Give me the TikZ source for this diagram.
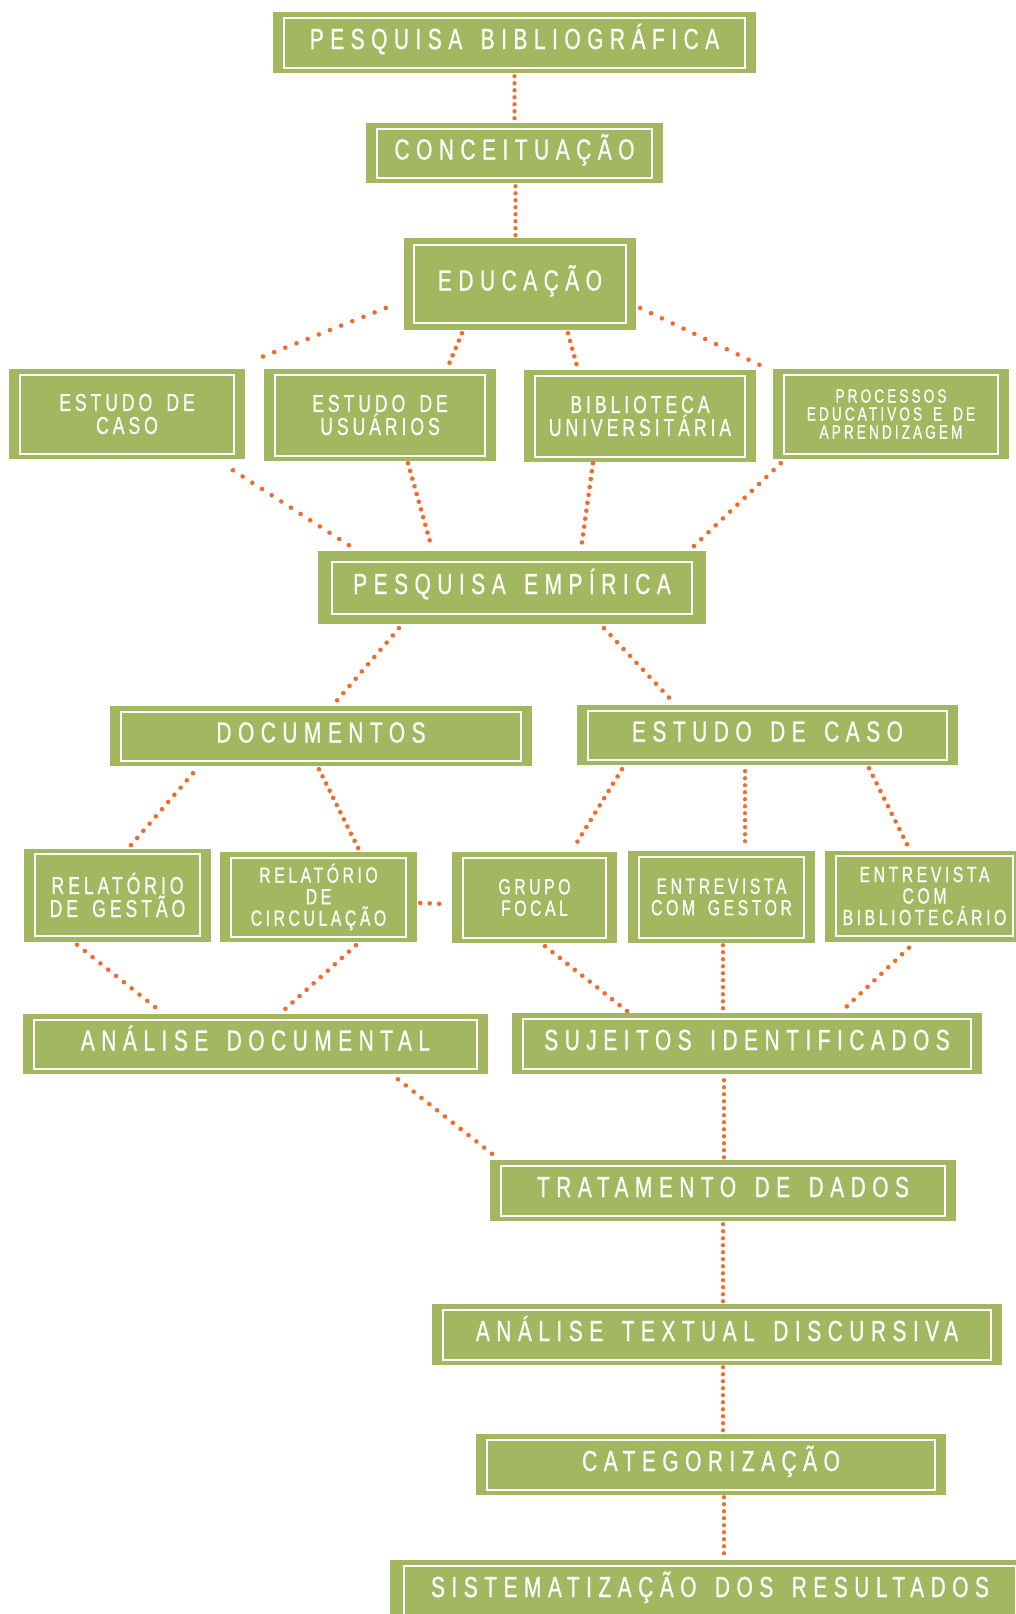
\documentclass[tikz,border=0pt]{standalone}
\usepackage{fontspec}
\setmainfont{Liberation Sans}
\newfontfamily\rotulo[FakeStretch=0.72,LetterSpace=22.5,WordSpace=1.5,FakeBold=0.7]{Liberation Sans}
\newfontfamily\rotulomenor[FakeStretch=0.72,LetterSpace=16,WordSpace=1.6,FakeBold=0.6]{Liberation Sans}
\usepackage{tikz}
\usetikzlibrary{calc}
\definecolor{verde}{HTML}{A2B75F}
\definecolor{laranja}{HTML}{F26B2A}

\begin{document}
\begin{tikzpicture}[x=1pt,y=-1pt,
  moldura/.style 2 args={path picture={\draw[white,line width=2pt]
    ([xshift=#1,yshift=-#2]path picture bounding box.north west) rectangle
    ([xshift=-#1,yshift=#2]path picture bounding box.south east);}},
  caixa/.style 2 args={fill=verde,text=white,align=center,inner sep=0pt,
    minimum width=#1pt,minimum height=#2pt,moldura={11pt}{5.5pt}},
  grande/.style={font=\rotulo\fontsize{29}{30}\selectfont,text height=23pt,text depth=10pt},
  media/.style={font=\rotulomenor\fontsize{24.5}{23}\selectfont},
  menor/.style={font=\rotulomenor\fontsize{22}{21.5}\selectfont},
  minima/.style={font=\rotulomenor\fontsize{19}{18}\selectfont},
  elo/.style={draw=laranja,line cap=round,line width=4.6pt,dash pattern=on 0pt off #1},
  elo/.default=9.5pt,
  elo fino/.style={elo=7pt,line width=4.2pt}]
\fill[white] (0,0) rectangle (1016,1614);
\useasboundingbox (0,0) rectangle (1016,1614);

\node[caixa={483}{61},grande] (bib) at (514.5,42.5) {PESQUISA BIBLIOGRÁFICA};
\node[caixa={297}{60},grande] (conc) at (514.5,153) {CONCEITUAÇÃO};
\node[caixa={232}{92},grande,moldura={10pt}{7pt}] (edu) at (520,284) {EDUCAÇÃO};
\node[caixa={236}{90},media] (ecaso1) at (127,414) {ESTUDO DE\\CASO};
\node[caixa={232}{92},media] (eusu) at (380,415) {ESTUDO DE\\USUÁRIOS};
\node[caixa={232}{92},media] (bibuni) at (640,416) {BIBLIOTECA\\UNIVERSITÁRIA};
\node[caixa={236}{90},minima] (proc) at (891,414) {PROCESSOS\\EDUCATIVOS E DE\\APRENDIZAGEM};
\node[caixa={388}{73},grande,moldura={14pt}{10.5pt}] (pemp) at (512,587.5) {PESQUISA EMPÍRICA};
\node[caixa={422}{60},grande] (doc) at (321,736) {DOCUMENTOS};
\node[caixa={381}{60},grande] (ecaso2) at (767.5,735) {ESTUDO DE CASO};
\node[caixa={187}{93},media] (relg) at (117.5,895) {RELATÓRIO\\DE GESTÃO};
\node[caixa={197}{90},menor] (relc) at (318.5,897) {RELATÓRIO\\DE\\CIRCULAÇÃO};
\node[caixa={165}{91},menor] (grupo) at (534.5,897.5) {GRUPO\\FOCAL};
\node[caixa={187}{92},menor] (entg) at (721.5,897) {ENTREVISTA\\COM GESTOR};
\node[caixa={199}{91},menor] (entb) at (924.5,896) {ENTREVISTA\\COM\\BIBLIOTECÁRIO};
\node[caixa={465}{60},grande] (adoc) at (255.5,1044) {ANÁLISE DOCUMENTAL};
\node[caixa={470}{61},grande] (suj) at (747,1043.5) {SUJEITOS IDENTIFICADOS};
\node[caixa={466}{61},grande] (trat) at (723,1190.5) {TRATAMENTO DE DADOS};
\node[caixa={570}{61},grande] (ats) at (717,1334.5) {ANÁLISE TEXTUAL DISCURSIVA};
\node[caixa={470}{61},grande] (cat) at (711,1464.5) {CATEGORIZAÇÃO};
\node[caixa={640}{61},grande,moldura={14pt}{6pt}] (sist) at (710,1590.5) {SISTEMATIZAÇÃO DOS RESULTADOS};

\draw[elo fino] ($(bib.south)+(0,3)$) -- ($(conc.north)+(0,-2)$);
\draw[elo fino] ($(conc.south)+(1,3)$) -- ($(conc.south |- edu.north)+(1,-2)$);
\draw[elo=12pt] ($(edu.west)+(-18,24)$) -- ($(ecaso1.north east)+(7,-8)$);
\draw[elo=8pt] ($(edu.south)+(-58,3)$) -- ($(eusu.north)+(67,0)$);
\draw[elo=8pt] ($(edu.south)+(48,3)$) -- ($(bibuni.north)+(-62,0)$);
\draw[elo=12pt] ($(edu.east)+(4,24)$) -- ($(proc.north west)+(-7,-1)$);
\draw[elo=11.5pt] ($(ecaso1.south)+(106,11)$) -- ($(pemp.north west)+(32,-5)$);
\draw[elo=8pt] ($(eusu.south)+(28,2)$) -- ($(pemp.north west)+(114,-3)$);
\draw[elo=8pt] ($(bibuni.south)+(-47,1)$) -- ($(pemp.north east)+(-125,-3)$);
\draw[elo=10pt] ($(proc.south west)+(8,4)$) -- ($(pemp.north east)+(-13,-4)$);
\draw[elo] ($(pemp.south)+(-113,4)$) -- ($(doc.north)+(14,-3)$);
\draw[elo] ($(pemp.south)+(92,4)$) -- ($(ecaso2.north)+(-94.5,-3)$);
\draw[elo] ($(doc.south)+(-128,7)$) -- ($(relg.north)+(12.5,-2)$);
\draw[elo=8pt] ($(doc.south)+(-2,3)$) -- ($(relc.north)+(40.5,-2)$);
\draw[elo=8.5pt] ($(ecaso2.south)+(-145.5,4)$) -- ($(grupo.north)+(38.5,-3)$);
\draw[elo fino] ($(ecaso2.south)+(-22.5,6)$) -- ($(entg.north)+(23.5,-3)$);
\draw[elo=8.5pt] ($(ecaso2.south)+(101.5,3)$) -- ($(entb.north)+(-15.5,-2)$);
\draw[elo] ($(relc.east)+(3,6)$) -- ($(grupo.west)+(-5,6.5)$);
\draw[elo=10pt] ($(relg.south)+(-40.5,3)$) -- ($(adoc.north)+(-94.5,-2)$);
\draw[elo] ($(relc.south)+(37.5,3)$) -- ($(adoc.north)+(25.5,-1)$);
\draw[elo] ($(grupo.south)+(10.5,3)$) -- ($(suj.north)+(-119,-1)$);
\draw[elo fino] ($(entg.south)+(1.5,2)$) -- ($(suj.north)+(-24,-3)$);
\draw[elo] ($(entb.south)+(-15.5,6)$) -- ($(suj.north)+(93,0)$);
\draw[elo=10pt] ($(adoc.south)+(142.5,5)$) -- ($(trat.north west)+(6,-3)$);
\draw[elo fino] ($(suj.south)+(-23,6)$) -- ($(trat.north)+(1,-2)$);
\draw[elo fino] ($(trat.south)+(0,3)$) -- ($(ats.north)+(6,-2)$);
\draw[elo fino] ($(ats.south)+(6,2)$) -- ($(cat.north)+(12,-3)$);
\draw[elo fino] ($(cat.south)+(13,2)$) -- ($(sist.north)+(14,0)$);
\end{tikzpicture}
\end{document}
